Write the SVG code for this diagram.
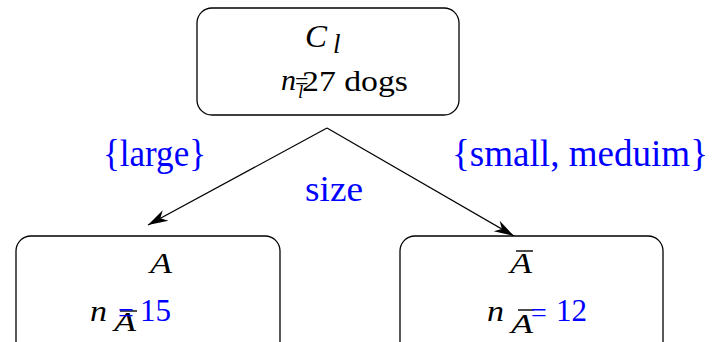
<svg xmlns="http://www.w3.org/2000/svg" width="715" height="342" viewBox="0 0 715 342">
<style>
.box{fill:#fff;stroke:#000;stroke-width:1.3}
text{font-family:'Liberation Serif','Times New Roman',Times,serif}
.m{font-style:italic}
.blue{fill:#0000ff}
.edge{stroke:#000;stroke-width:1.2;fill:none}
.bar{stroke:#000;stroke-width:1.4}
</style>
<defs>
<marker id="ah" markerWidth="22" markerHeight="14" refX="20" refY="7" orient="auto" markerUnits="userSpaceOnUse">
<path d="M0,1 L20,7 L0,13 L6,7 Z" fill="#000"/>
</marker>
</defs>
<rect width="715" height="342" fill="#fff"/>
<g id="connectors">
<path class="edge" d="M327,128 L148,225" marker-end="url(#ah)"/>
<path class="edge" d="M327,128 L514,236" marker-end="url(#ah)"/>
</g>
<g id="node-Cl">
<rect class="box" x="197" y="8" width="262" height="107" rx="15" ry="15"/>
<text class="m" x="305" y="47" font-size="31" textLength="22" lengthAdjust="spacingAndGlyphs">C</text>
<text class="m" x="333" y="53" font-size="27">l</text>
<text class="m" x="281" y="90" font-size="30" textLength="15" lengthAdjust="spacingAndGlyphs">n</text>
<text x="295" y="89" font-size="24">=</text>
<text class="m" x="298" y="98" font-size="19">l</text>
<text x="302" y="91" font-size="29" textLength="106" lengthAdjust="spacingAndGlyphs">27 dogs</text>
</g>
<g id="labels">
<text class="blue" x="103" y="166" font-size="37" textLength="103" lengthAdjust="spacingAndGlyphs">{large}</text>
<text class="blue" x="452" y="166" font-size="37" textLength="256" lengthAdjust="spacingAndGlyphs">{small, meduim}</text>
<text class="blue" x="305" y="201" font-size="36" textLength="58" lengthAdjust="spacingAndGlyphs">size</text>
</g>
<g id="node-A">
<rect class="box" x="16" y="236" width="264" height="125" rx="15" ry="15"/>
<text class="m" x="150" y="273" font-size="30" textLength="22" lengthAdjust="spacingAndGlyphs">A</text>
<text class="m" x="90" y="321" font-size="30" textLength="17" lengthAdjust="spacingAndGlyphs">n</text>
<text class="m" x="114" y="331" font-size="28" textLength="22" lengthAdjust="spacingAndGlyphs">A</text>
<line class="bar" x1="120" y1="311" x2="137" y2="311"/>
<text class="blue" x="118" y="322" font-size="28">=</text>
<text class="blue" x="140" y="321" font-size="31">15</text>
</g>
<g id="node-notA">
<rect class="box" x="400" y="236" width="263" height="125" rx="15" ry="15"/>
<text class="m" x="510" y="273" font-size="30" textLength="22" lengthAdjust="spacingAndGlyphs">A</text>
<line class="bar" x1="516" y1="251" x2="533" y2="251"/>
<text class="m" x="487" y="321" font-size="30" textLength="17" lengthAdjust="spacingAndGlyphs">n</text>
<text class="m" x="511" y="333" font-size="28" textLength="22" lengthAdjust="spacingAndGlyphs">A</text>
<line class="bar" x1="518" y1="310" x2="534" y2="310"/>
<text class="blue" x="531" y="322" font-size="28">=</text>
<text class="blue" x="556" y="321" font-size="31">12</text>
</g>
</svg>
